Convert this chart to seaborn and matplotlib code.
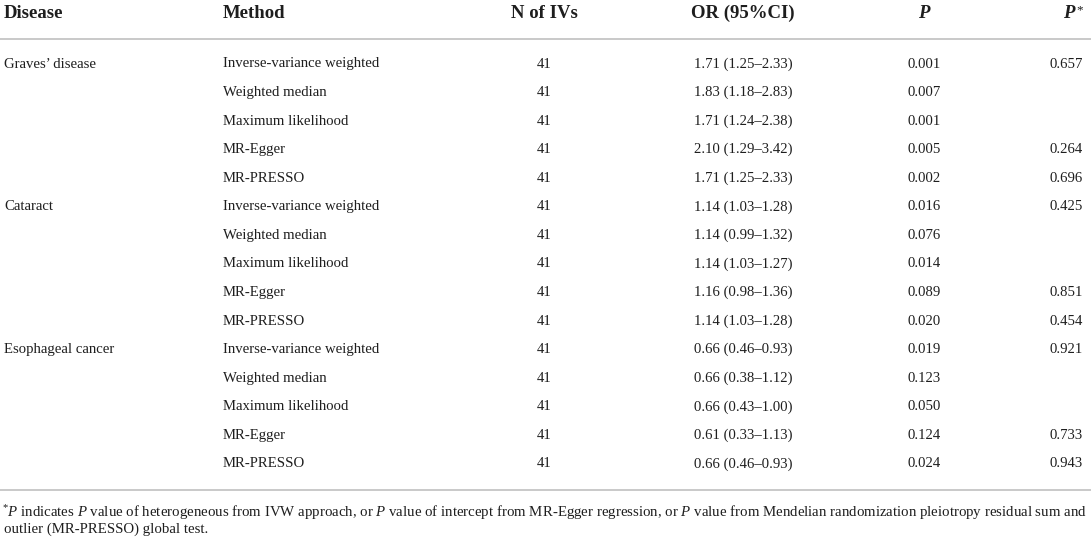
import matplotlib
matplotlib.use("Agg")
import matplotlib.pyplot as plt
import seaborn as sns

# ---------------- data ----------------
diseases = ["Graves’ disease", "Cataract", "Esophageal cancer"]
methods = ["Inverse-variance weighted", "Weighted median", "Maximum likelihood",
           "MR-Egger", "MR-PRESSO"]
n_ivs = [41, 41, 41, 41, 41,
         41, 41, 41, 41, 41,
         41, 41, 41, 41, 41]
or_est = ["1.71", "1.83", "1.71", "2.10", "1.71",
          "1.14", "1.14", "1.14", "1.16", "1.14",
          "0.66", "0.66", "0.66", "0.61", "0.66"]
ci_low = ["1.25", "1.18", "1.24", "1.29", "1.25",
          "1.03", "0.99", "1.03", "0.98", "1.03",
          "0.46", "0.38", "0.43", "0.33", "0.46"]
ci_high = ["2.33", "2.83", "2.38", "3.42", "2.33",
           "1.28", "1.32", "1.27", "1.36", "1.28",
           "0.93", "1.12", "1.00", "1.13", "0.93"]
p_vals = ["0.001", "0.007", "0.001", "0.005", "0.002",
          "0.016", "0.076", "0.014", "0.089", "0.020",
          "0.019", "0.123", "0.050", "0.124", "0.024"]
p_star = ["0.657", "", "", "0.264", "0.696",
          "0.425", "", "", "0.851", "0.454",
          "0.921", "", "", "0.733", "0.943"]
headers = ["Disease", "Method", "N of IVs", "OR (95%CI)"]
footnote_1 = (r"${}^{*}$$\mathit{P}$ indicates $\mathit{P}$ value of heterogeneous from IVW approach, "
              r"or $\mathit{P}$ value of intercept from MR-Egger regression, or $\mathit{P}$ value "
              r"from Mendelian randomization pleiotropy residual sum and")
footnote_2 = "outlier (MR-PRESSO) global test."

# ---------------- style ----------------
sns.set_theme(style="white")
plt.rcParams["font.family"] = ["Liberation Serif", "DejaVu Serif"]
plt.rcParams["mathtext.fontset"] = "custom"
plt.rcParams["mathtext.rm"] = "Liberation Serif"
plt.rcParams["mathtext.it"] = "Liberation Serif:italic"
plt.rcParams["mathtext.bf"] = "Liberation Serif:bold"

TXT = "#1e1e1e"
RULE = "#c9c9c9"
FS = 10.6
FS_HEAD = 13.5
FS_FOOT = 8.6

W, H = 1091, 542
fig = plt.figure(figsize=(W / 100, H / 100), dpi=100)
ax = fig.add_axes([0, 0, 1, 1])
ax.set_xlim(0, W)
ax.set_ylim(H, 0)
ax.axis("off")

x_dis, x_meth, x_n, x_or, x_p, x_ps = 4, 223, 544, 743, 924, 1083
y_head = 13
y0, dy = 64, 28.57

# header
hk = dict(va="center", fontsize=FS_HEAD, fontweight="bold", color=TXT)
ax.text(x_dis, y_head, headers[0], ha="left", **hk)
ax.text(x_meth, y_head, headers[1], ha="left", **hk)
ax.text(x_n, y_head, headers[2], ha="center", **hk)
ax.text(x_or, y_head, headers[3], ha="center", **hk)
ax.text(x_p, y_head, "P", ha="center", fontstyle="italic", **hk)
ax.text(x_ps - 8, y_head, "P", ha="right", fontstyle="italic", **hk)
ax.text(x_ps, y_head - 3, "*", ha="right", va="center", fontsize=FS_HEAD * 0.7, color=TXT)

# rules
ax.axhline(39, color=RULE, lw=1.4)
ax.axhline(490, color=RULE, lw=1.4)

# body
bk = dict(va="center", fontsize=FS, color=TXT)
for i in range(len(or_est)):
    y = y0 + i * dy
    if i % len(methods) == 0:
        ax.text(x_dis, y, diseases[i // len(methods)], ha="left", **bk)
    ax.text(x_meth, y, methods[i % len(methods)], ha="left", **bk)
    ax.text(x_n, y, str(n_ivs[i]), ha="center", **bk)
    ax.text(x_or, y, f"{or_est[i]} ({ci_low[i]}–{ci_high[i]})", ha="center", **bk)
    ax.text(x_p, y, p_vals[i], ha="center", **bk)
    if p_star[i]:
        ax.text(x_ps, y, p_star[i], ha="right", **bk)

# footnote, fitted to the table width
t1 = ax.text(2, 513, footnote_1, ha="left", va="center", fontsize=FS_FOOT, color=TXT)
fig.canvas.draw()
r = fig.canvas.get_renderer()
w = t1.get_window_extent(r).width
t1.set_fontsize(FS_FOOT * (1085 - 2) / w)
ax.text(4, 529, footnote_2, ha="left", va="center", fontsize=t1.get_fontsize(), color=TXT)

fig.savefig("out.png", dpi=100, facecolor="white")
